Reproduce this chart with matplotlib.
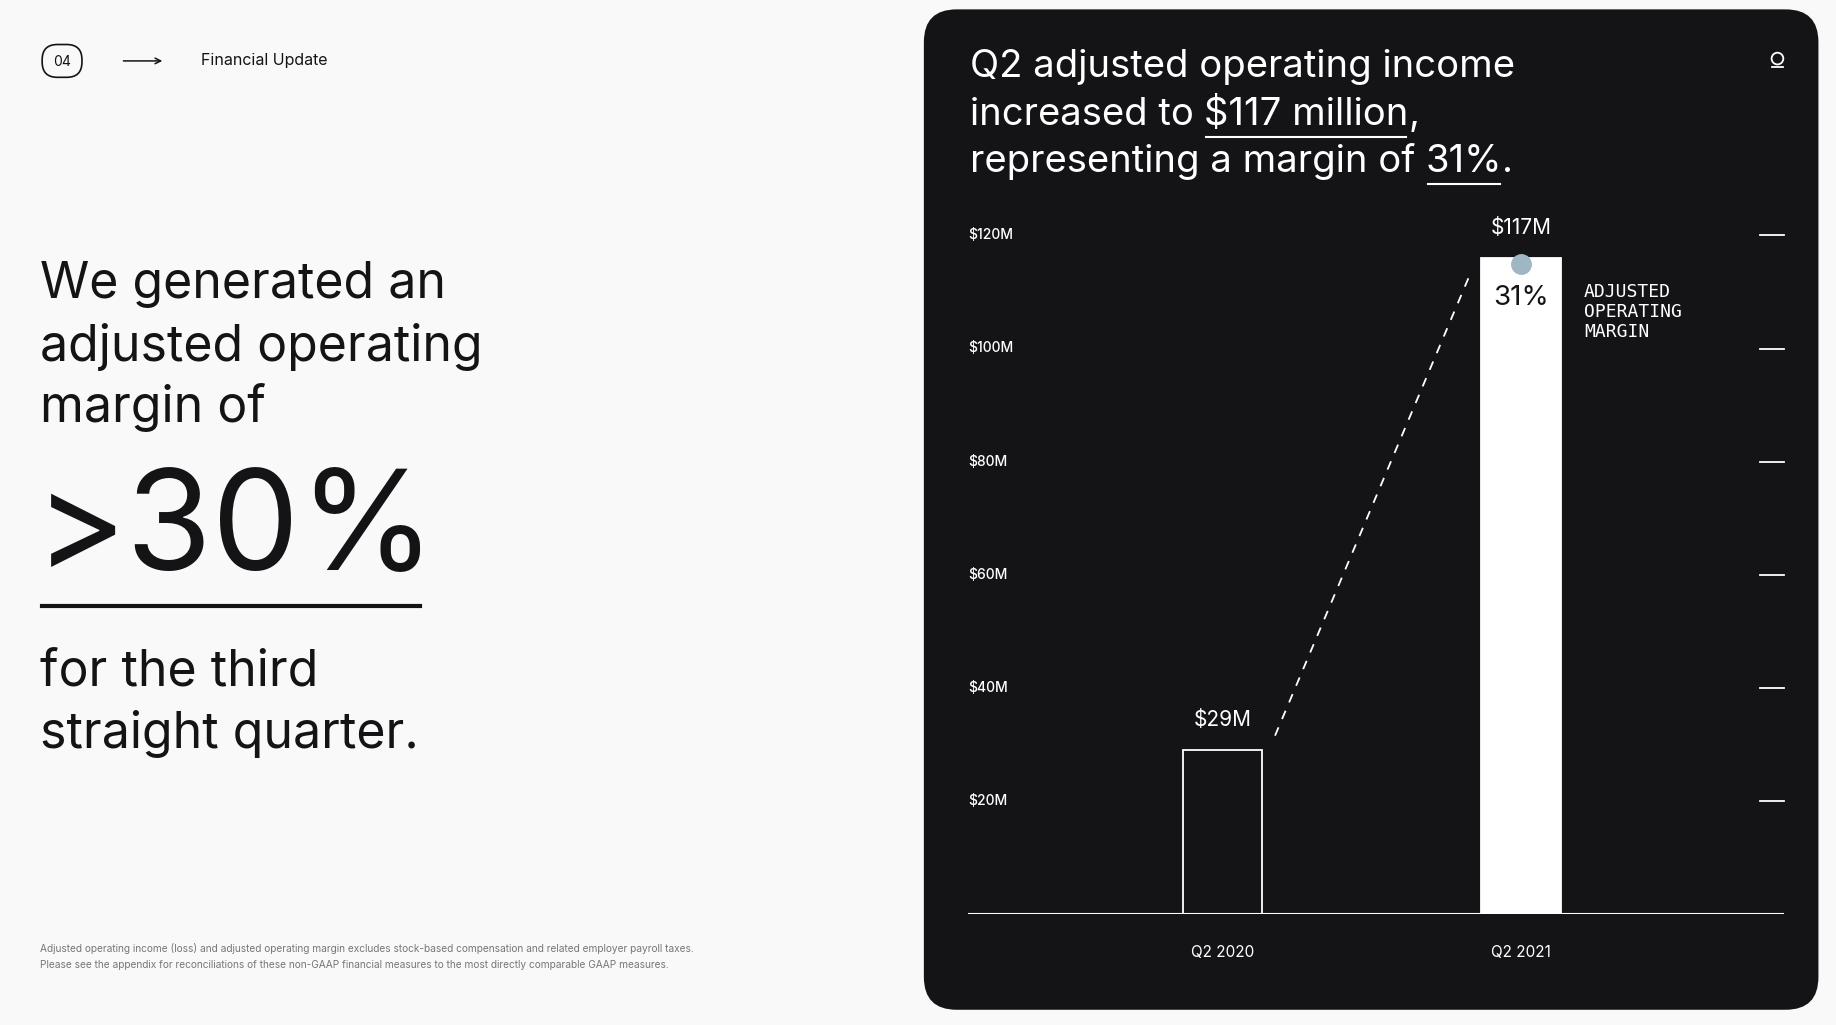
import matplotlib
matplotlib.use("Agg")
import matplotlib.pyplot as plt
from matplotlib.patches import FancyBboxPatch, Circle

categories = ["Q2 2020", "Q2 2021"]
income = [29, 117]          # $M
value_labels = ["$29M", "$117M"]
margin_label = "31%"
yticks = [20, 40, 60, 80, 100, 120]
ytick_labels = ["$20M", "$40M", "$60M", "$80M", "$100M", "$120M"]

W, H = 1568, 875
fig = plt.figure(figsize=(18.36, 10.25), dpi=100)
fig.patch.set_facecolor("#f9f9f9")
bg = fig.add_axes([0, 0, 1, 1])
bg.set_xlim(0, W); bg.set_ylim(H, 0); bg.axis("off")
FONT = "Inter"
plt.rcParams["font.family"] = FONT

# panel
bg.add_patch(FancyBboxPatch((789 + 28, 8 + 28), 764 - 56, 854 - 56,
             boxstyle="round,pad=28", fc="#141417", ec="none"))

# header
bg.add_patch(FancyBboxPatch((49, 51), 8, 2, boxstyle="round,pad=13",
             fc="none", ec="#141417", lw=1.2))
bg.text(53, 53, "04", ha="center", va="center", fontsize=10, color="#141417")
bg.annotate("", xy=(141, 52), xytext=(103, 52),
            arrowprops=dict(arrowstyle="->", color="#141417", lw=1.1))
bg.text(172, 52, "Financial Update", ha="left", va="center", fontsize=11.5, color="#141417")

# left text
for y, s in zip([243, 296, 348], ["We generated an", "adjusted operating", "margin of"]):
    bg.text(34, y, s, ha="left", va="center", fontsize=36, color="#141417")
bg.text(30, 455, ">30%", ha="left", va="center", fontsize=100, color="#141417")
bg.plot([36, 359], [517, 517], color="#141417", lw=3)
for y, s in zip([574, 627], ["for the third", "straight quarter."]):
    bg.text(34, y, s, ha="left", va="center", fontsize=36, color="#141417")
bg.text(34, 810, "Adjusted operating income (loss) and adjusted operating margin excludes stock-based compensation and related employer payroll taxes.",
        fontsize=7.3, color="#777777", va="center")
bg.text(34, 824, "Please see the appendix for reconciliations of these non-GAAP financial measures to the most directly comparable GAAP measures.",
        fontsize=7.3, color="#777777", va="center")

# title with underlines
fig.canvas.draw()
r = fig.canvas.get_renderer()
def piece(x, y, s, underline=False):
    t = bg.text(x, y, s, ha="left", va="center", fontsize=27.5, color="white")
    bb = t.get_window_extent(r).transformed(bg.transData.inverted())
    if underline:
        bg.plot([x + 2, bb.x1 - 2], [y + 19, y + 19], color="white", lw=1.5)
    return bb.x1
piece(828, 57, "Q2 adjusted operating income")
x = piece(828, 98, "increased to ")
x = piece(x, 98, "$117 million", True)
piece(x, 98, ",")
x = piece(828, 138, "representing a margin of ")
x = piece(x, 138, "31%", True)
piece(x, 138, ".")

# icon
bg.add_patch(Circle((1518, 50), 5, fc="none", ec="white", lw=1.3))
bg.plot([1513, 1523], [57.5, 57.5], color="white", lw=1.3)

# chart axes: x 827..1524, y 780 (0) .. 201 (120)
ax = fig.add_axes([827 / W, 1 - 780 / H, (1524 - 827) / W, (780 - 201) / H])
ax.set_facecolor("none")
ax.set_xlim(-0.851, 1.882); ax.set_ylim(0, 120)
for s in ax.spines.values(): s.set_visible(False)
ax.set_xticks([]); ax.set_yticks([])
ax.axhline(0, color="white", lw=1.5)
for v, lab in zip(yticks, ytick_labels):
    ax.text(-0.851, v, lab, ha="left", va="center", fontsize=10, color="white", fontweight="medium")
    ax.plot([1.80, 1.882], [v, v], color="white", lw=1.3, clip_on=False)
w = 0.267
ax.bar([0], [income[0]], width=w, facecolor="#141417", edgecolor="white", lw=1.3)
ax.bar([1], [income[1] - 1], width=w, facecolor="white", edgecolor="white", lw=1.3)
ax.plot([0.176, 0.824], [31.5, 112.5], color="white", lw=1.3, ls=(0, (5, 5)))
ax.plot([1], [income[1] - 2], "o", ms=14, color="#9fb6c4", clip_on=False)
ax.text(0, income[0] + 3.5, value_labels[0], ha="center", va="bottom", fontsize=15, color="white")
ax.text(1, income[1] + 2.5, value_labels[1], ha="center", va="bottom", fontsize=15, color="white")
ax.text(1, 109, margin_label, ha="center", va="center", fontsize=20, color="#141417")
ax.text(1.21, 106.5, "ADJUSTED\nOPERATING\nMARGIN", ha="left", va="center", fontsize=13,
        color="white", family="DejaVu Sans Mono", linespacing=1.15)
for i, c in enumerate(categories):
    ax.text(i, -6.8, c, ha="center", va="center", fontsize=11, color="white")

fig.savefig("out.png", dpi=100, facecolor=fig.get_facecolor())
